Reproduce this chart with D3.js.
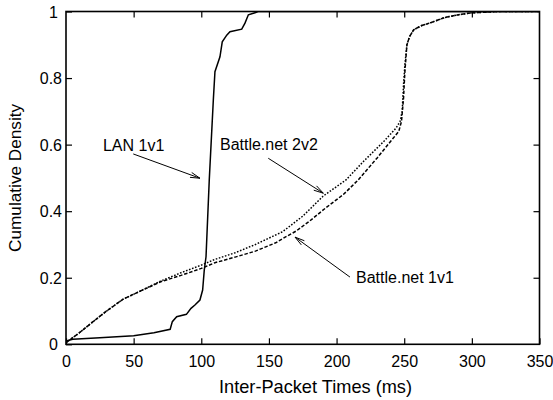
<!DOCTYPE html>
<html><head><meta charset="utf-8">
<script src="https://cdn.jsdelivr.net/npm/d3@7"></script>
<style>body{margin:0;background:#fff}svg{display:block}text{font-family:"Liberation Sans",Arial,Helvetica,sans-serif;fill:#000}</style>
</head><body><svg id="c" width="553" height="400"></svg>
<script>
// ---- data (ms, cumulative density) ----
const lan1v1 = [[0,0.01],[5,0.015],[25,0.02],[50,0.026],[65,0.035],[77,0.045],[78.6,0.068],[81.8,0.083],[89,0.09],[92.4,0.108],[95.3,0.118],[99,0.133],[101,0.163],[102.2,0.223],[103.5,0.263],[105.9,0.494],[108.9,0.734],[110.1,0.819],[113.8,0.864],[115.5,0.909],[118.8,0.929],[121.2,0.939],[129.9,0.947],[132.3,0.965],[134.8,0.99],[139.7,0.996],[142,1],[350,1]];
const bnet2v2 = [[0,0.005],[5,0.02],[10,0.035],[20,0.068],[30,0.1],[42,0.135],[55,0.16],[70,0.19],[85,0.215],[100,0.238],[110,0.255],[125,0.275],[140,0.3],[160,0.338],[175,0.385],[190,0.445],[207,0.494],[220,0.55],[235,0.61],[244,0.65],[247,0.67],[248.5,0.7],[249.5,0.78],[250.5,0.84],[252,0.9],[254,0.925],[257,0.945],[263,0.958],[270,0.967],[280,0.982],[290,0.99],[300,0.996],[320,1],[350,1]];
const bnet1v1 = [[0,0.005],[5,0.02],[10,0.035],[20,0.068],[30,0.1],[42,0.135],[55,0.16],[70,0.188],[85,0.207],[100,0.228],[110,0.245],[125,0.262],[140,0.28],[155,0.305],[162,0.322],[170,0.34],[180,0.37],[192,0.41],[205,0.45],[216,0.494],[230,0.56],[240,0.61],[246,0.64],[248,0.67],[249.5,0.74],[250.5,0.82],[252,0.9],[254,0.925],[257,0.945],[263,0.958],[270,0.967],[280,0.982],[290,0.99],[300,0.996],[320,1],[350,1]];
const xTicks = [0,50,100,150,200,250,300,350];
const yTicks = [0,0.2,0.4,0.6,0.8,1];
const yTickLabels = ["0","0.2","0.4","0.6","0.8","1"];
const xTitle = "Inter-Packet Times (ms)";
const yTitle = "Cumulative Density";
// annotations: label text, label anchor [ms,density], arrow from -> to
const notes = [
  {text:"LAN 1v1", at:[27.3,0.581], from:[49.7,0.572], to:[99.0,0.499]},
  {text:"Battle.net 2v2", at:[113.8,0.584], from:[149.5,0.559], to:[190.2,0.454]},
  {text:"Battle.net 1v1", at:[214.4,0.184], from:[209.9,0.202], to:[169.3,0.322]}
];

const W=553,H=400, m={l:66,r:13.5,t:11.5,b:55.7};
const svg=d3.select("#c");
const x=d3.scaleLinear().domain([0,350]).range([m.l,W-m.r]);
const y=d3.scaleLinear().domain([0,1]).range([H-m.b,m.t]);
const fs=16;

// axes with inward ticks
const gB=svg.append("g").attr("transform",`translate(0,${y(0)})`)
  .call(d3.axisBottom(x).tickValues(xTicks).tickSize(-6).tickPadding(0).tickFormat(d3.format("d")));
gB.selectAll("text").attr("y",22.8).attr("dy",0).attr("font-size",fs);
svg.append("g").attr("transform",`translate(0,${y(1)})`)
  .call(d3.axisTop(x).tickValues(xTicks.slice(1,-1)).tickSize(-6).tickFormat(""));
const gL=svg.append("g").attr("transform",`translate(${x(0)},0)`)
  .call(d3.axisLeft(y).tickValues(yTicks).tickSize(-6).tickPadding(0).tickFormat((d,i)=>yTickLabels[i]));
gL.selectAll("text").attr("x",(d,i)=>yTickLabels[i].length===1?-8:-4).attr("dy","0.35em").attr("font-size",fs);
svg.append("g").attr("transform",`translate(${x(350)},0)`)
  .call(d3.axisRight(y).tickValues(yTicks.slice(1,-1)).tickSize(-6).tickFormat(""));
svg.selectAll(".domain").remove();
svg.selectAll(".tick line").attr("stroke","#000").attr("stroke-width",1.2);
svg.selectAll(".tick text").attr("font-family",'"Liberation Sans",Arial,sans-serif');

// curves
const line=d3.line().x(d=>x(d[0])).y(d=>y(d[1]));
svg.append("clipPath").attr("id","pc").append("rect")
  .attr("x",x(0)).attr("y",y(1)).attr("width",x(350)-x(0)).attr("height",y(0)-y(1));
const gp=svg.append("g").attr("clip-path","url(#pc)");
gp.append("path").datum(bnet2v2).attr("d",line).attr("fill","none").attr("stroke","#000").attr("stroke-width",1.5).attr("stroke-dasharray","1.6,1.6");
gp.append("path").datum(bnet1v1).attr("d",line).attr("fill","none").attr("stroke","#000").attr("stroke-width",1.5).attr("stroke-dasharray","3.5,1.8");
gp.append("path").datum(lan1v1).attr("d",line).attr("fill","none").attr("stroke","#000").attr("stroke-width",1.5);

// frame
svg.append("rect").attr("x",x(0)).attr("y",y(1)).attr("width",x(350)-x(0)).attr("height",y(0)-y(1))
  .attr("fill","none").attr("stroke","#000").attr("stroke-width",1.6);

// annotations
notes.forEach(n=>{
  svg.append("text").attr("x",x(n.at[0])).attr("y",y(n.at[1])).attr("font-size",16).text(n.text);
  const x1=x(n.from[0]),y1=y(n.from[1]),x2=x(n.to[0]),y2=y(n.to[1]);
  svg.append("line").attr("x1",x1).attr("y1",y1).attr("x2",x2).attr("y2",y2).attr("stroke","#000").attr("stroke-width",1);
  const a=Math.atan2(y2-y1,x2-x1), L=10, h=0.26;
  const p=[[x2-L*Math.cos(a-h),y2-L*Math.sin(a-h)],[x2,y2],[x2-L*Math.cos(a+h),y2-L*Math.sin(a+h)]];
  svg.append("path").attr("d",d3.line()(p)).attr("fill","none").attr("stroke","#000").attr("stroke-width",1);
});

// titles
svg.append("text").attr("x",315.5).attr("y",393).attr("text-anchor","middle").attr("font-size",18.2).text(xTitle);
svg.append("text").attr("transform",`translate(21,${(y(0)+y(1))/2}) rotate(-90)`).attr("text-anchor","middle").attr("font-size",17.2).text(yTitle);
</script></body></html>
